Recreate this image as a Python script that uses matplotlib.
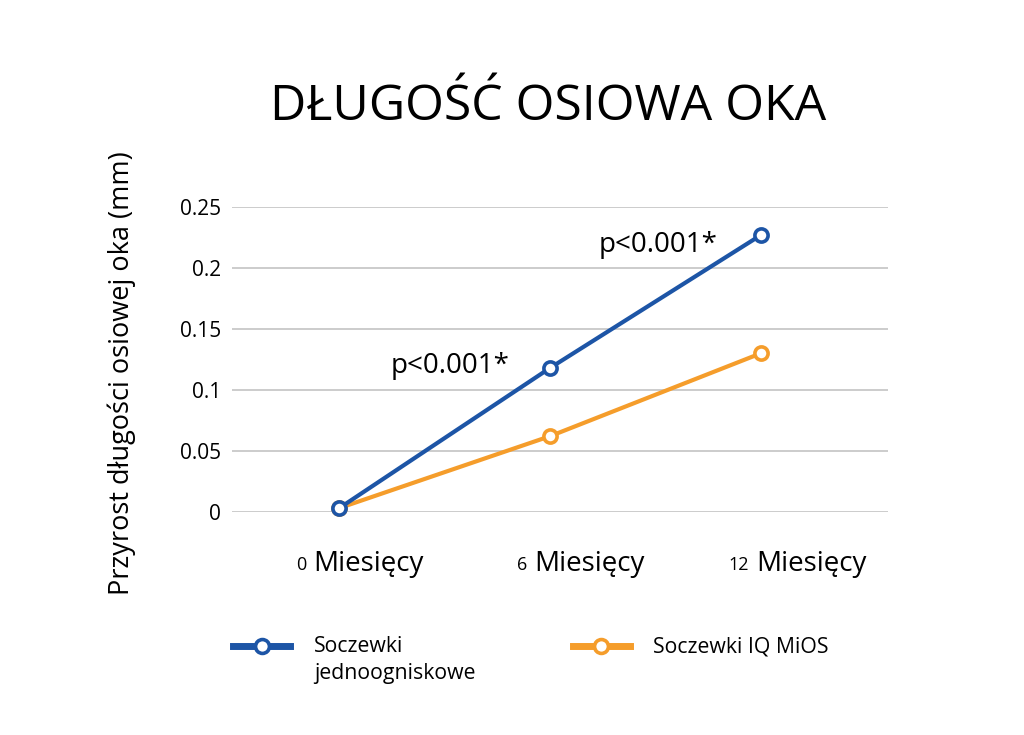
import matplotlib
matplotlib.use("Agg")
import matplotlib.pyplot as plt
from matplotlib.lines import Line2D

plt.rcParams['font.family'] = ['Open Sans', 'DejaVu Sans']

# dane
months = ["0", "6", "12"]
month_word = "Miesięcy"
monofocal = [0.003, 0.118, 0.227]
miosiq = [0.003, 0.062, 0.130]
series_names = ["Soczewki\njednoogniskowe", "Soczewki IQ MiOS\n"]
p_labels = ["p<0.001*", "p<0.001*"]
yticks = [0, 0.05, 0.1, 0.15, 0.2, 0.25]
ytick_labels = ["0", "0.05", "0.1", "0.15", "0.2", "0.25"]

blue = "#1d55a6"
orange = "#f59d2b"

fig = plt.figure(figsize=(10.24, 7.35), dpi=100)
ax = fig.add_axes([232/1024, 1 - 511.7/735, 656/1024, 305/735])

x = list(range(len(months)))
ax.plot(x, monofocal, color=blue, lw=3, marker='o', ms=9.5, mew=2.6,
        mfc='white', mec=blue, zorder=4, clip_on=False)
ax.plot(x, miosiq, color=orange, lw=3, marker='o', ms=9.5, mew=2.6,
        mfc='white', mec=orange, zorder=3, clip_on=False)

ax.set_xlim(-0.509, 2.600)
ax.set_ylim(0, 0.25)
ax.set_yticks(yticks)
ax.set_yticklabels(ytick_labels, fontsize=15)
ax.set_xticks(x)
ax.set_xticklabels([])
ax.tick_params(axis='both', length=0)
ax.tick_params(axis='y', pad=8)
ax.grid(axis='y', color='#c4c4c4', lw=1.2)
ax.set_axisbelow(True)
for s in ax.spines.values():
    s.set_visible(False)

# etykiety osi x: mała liczba + duże słowo
for i, m in enumerate(months):
    xpos = -0.125 + i * 1.050
    ax.annotate(month_word, xy=(xpos, 0), xycoords=('data', 'axes fraction'),
                xytext=(0, -43), textcoords='offset points',
                ha='left', va='baseline', fontsize=20)
    ax.annotate(m, xy=(xpos, 0), xycoords=('data', 'axes fraction'),
                xytext=(-5, -42), textcoords='offset points',
                ha='right', va='baseline', fontsize=13)

# adnotacje p
ax.text(0.808, 0.1137, p_labels[0], ha='right', va='baseline', fontsize=20)
ax.text(1.794, 0.213, p_labels[1], ha='right', va='baseline', fontsize=20)

fig.text(548/1024, 1 - 120/735, "DŁUGOŚĆ OSIOWA OKA", ha='center',
         va='baseline', fontsize=36)
fig.text(122/1024, 1 - 373/735, "Przyrost długości osiowej oka (mm)",
         rotation=90, ha='center', va='center', fontsize=19.5)

handles = [
    Line2D([], [], color=blue, lw=5, marker='o', ms=10, mew=2.6, mfc='white', mec=blue),
    Line2D([], [], color=orange, lw=5, marker='o', ms=10, mew=2.6, mfc='white', mec=orange),
]
leg = fig.legend(handles, series_names, ncol=2, frameon=False, fontsize=15.3,
                 loc='upper left', bbox_to_anchor=(233/1024, 1 - 636/735),
                 borderpad=0, borderaxespad=0,
                 handlelength=2.7, handletextpad=1.1, columnspacing=4.58)
for t in leg.get_texts():
    t.set_linespacing(1.4)
# uchwyty legendy na wysokości pierwszej linii tekstu
for h in leg.legend_handles:
    h.set_ydata([y + 10.8 for y in h.get_ydata()])

fig.savefig("out.png", dpi=100)
